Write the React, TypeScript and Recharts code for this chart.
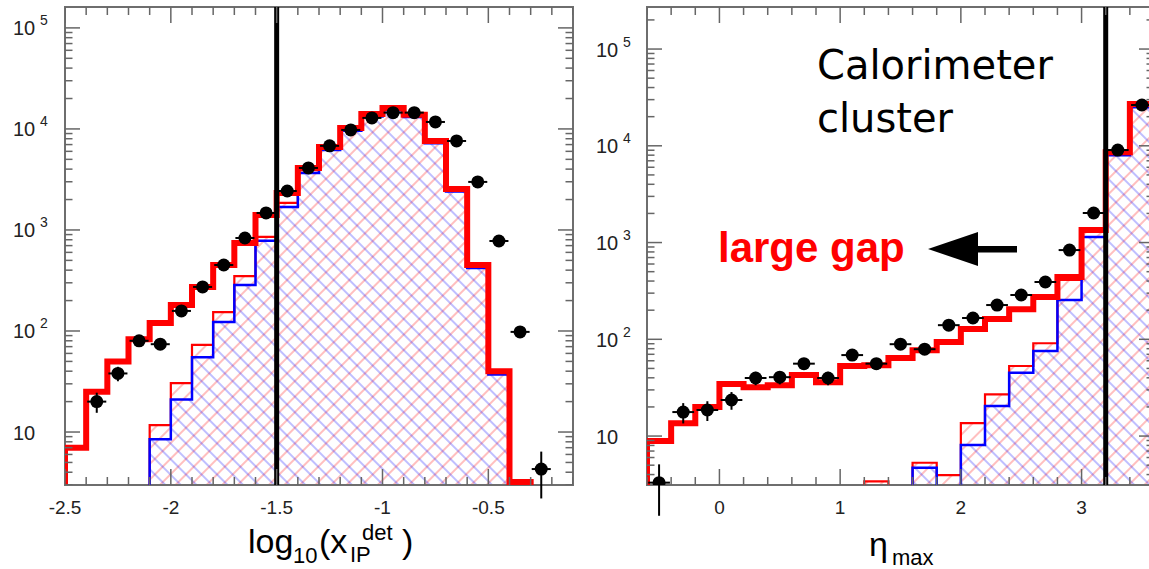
import React from 'react'
import {
  ComposedChart,
  Area,
  Line,
  Scatter,
  ErrorBar,
  XAxis,
  YAxis,
  ReferenceLine,
  ReferenceArea,
} from 'recharts'

const FRAME = '#6e6e6e'
const TICK = '#666666'
const FONT = '"Liberation Sans", Arial, Helvetica, sans-serif'
const HIST_FLOOR = 1 // empty bins are drawn below the visible range

// ---- left panel: log10(x_IP^det), bins of 0.1 ----
const xipEdges = [-2.5, -2.4, -2.3, -2.2, -2.1, -2.0, -1.9, -1.8, -1.7, -1.6, -1.5, -1.4, -1.3, -1.2, -1.1, -1.0, -0.9, -0.8, -0.7, -0.6, -0.5, -0.4, -0.3, -0.2, -0.1]
const xipMajor = [-2.5, -2, -1.5, -1, -0.5]
const xipMajorLabels = ['-2.5', '-2', '-1.5', '-1', '-0.5']
const xipTotal = [7.0, 25, 50, 83, 120, 181, 273, 450, 744, 1410, 2325, 4110, 6640, 10230, 14090, 16140, 13800, 7600, 2550, 450, 40, 3.2, 0, 0]
const xipRedHatch = [0, 0, 0, 0, 11.7, 30.5, 73, 154, 350, 853, 1850, 3900, 6400, 9900, 13700, 15700, 13400, 7400, 2480, 440, 39, 3.1, 0, 0]
const xipBlueHatch = [0, 0, 0, 0, 8.5, 21, 55, 123, 285, 780, 1690, 3660, 6200, 9600, 13300, 15300, 13100, 7200, 2400, 420, 37, 3.0, 0, 0]
const xipDataX = [-2.35, -2.25, -2.15, -2.05, -1.95, -1.85, -1.75, -1.65, -1.55, -1.45, -1.35, -1.25, -1.15, -1.05, -0.95, -0.85, -0.75, -0.65, -0.55, -0.45, -0.35, -0.25]
const xipData = [20, 38, 80, 74, 158, 273, 450, 833, 1473, 2430, 4110, 6800, 9770, 12850, 14500, 14500, 11720, 7600, 2990, 778, 98, 4.3]
const xipDataErr = [4.5, 6.2, 9, 8.6, 12.6, 16.5, 21, 29, 38, 49, 64, 82, 99, 113, 120, 120, 108, 87, 55, 28, 9.9, 2.1]
const xipCut = -1.5

// ---- right panel: eta_max, bins of 0.2 ----
const etaEdges = [-0.6, -0.4, -0.2, 0, 0.2, 0.4, 0.6, 0.8, 1.0, 1.2, 1.4, 1.6, 1.8, 2.0, 2.2, 2.4, 2.6, 2.8, 3.0, 3.2, 3.4, 3.6]
const etaMajor = [0, 1, 2, 3]
const etaMajorLabels = ['0', '1', '2', '3']
const etaTotal = [8.9, 13.6, 20, 34.5, 32, 33.6, 42.7, 36, 53, 54, 64, 77, 94, 128, 162, 205, 273, 440, 1346, 8600, 27000]
const etaRedHatch = [0, 0, 0, 0, 0, 0, 0, 0, 0, 3.4, 0, 5.3, 3.95, 13.6, 27, 53, 91, 410, 1300, 8300, 26000]
const etaBlueHatch = [0, 0, 0, 0, 0, 0, 0, 0, 0, 0, 0, 4.7, 0, 8.1, 20.4, 45, 75.5, 255, 1140, 8000, 25000]
const etaDataX = [-0.5, -0.3, -0.1, 0.1, 0.3, 0.5, 0.7, 0.9, 1.1, 1.3, 1.5, 1.7, 1.9, 2.1, 2.3, 2.5, 2.7, 2.9, 3.1, 3.3, 3.5]
const etaData = [3.3, 17.7, 18.6, 23.6, 39.8, 40.6, 56, 39.8, 68.7, 56, 89, 79, 140, 166, 226, 287, 391, 836, 2020, 9040, 26400]
const etaDataErr = [1.8, 4.2, 4.3, 4.9, 6.3, 6.4, 7.5, 6.3, 8.3, 7.5, 9.4, 8.9, 11.8, 12.9, 15, 17, 19.8, 28.9, 45, 95, 162]
const etaCut = 3.2

// y axis decades
const yMajor = [10, 100, 1000, 10000, 100000]
const yMajorExp = ['', '2', '3', '4', '5']

function logTicks(lo: number, hi: number) {
  const out: number[] = []
  for (let d = 1; d <= 1e5; d *= 10) {
    for (let m = 1; m < 10; m++) {
      const v = m * d
      if (v >= lo && v <= hi) out.push(v)
    }
  }
  return out
}

// histogram -> points for a stepAfter curve (edges drop to the floor)
function steps(edges: number[], vals: number[]) {
  const pts = [{ x: edges[0], y: HIST_FLOOR }]
  vals.forEach((v, i) => pts.push({ x: edges[i], y: v > 0 ? v : HIST_FLOOR }))
  pts.push({ x: edges[edges.length - 1], y: HIST_FLOOR })
  return pts
}

const near = (a: number, b: number) => Math.abs(a - b) < 1e-6
const isDecade = (v: number) => yMajor.some((m) => Math.abs(m - v) < 1e-3)

// inward ROOT-style tick mark drawn from the point (cx, cy)
const tickShape = (dx: number, dy: number) => (s: any) => (
  <line
    x1={s.cx}
    y1={s.cy}
    x2={s.cx + dx}
    y2={s.cy + dy}
    stroke={TICK}
    strokeWidth={1.5}
  />
)

interface PanelProps {
  id: string
  width: number
  marginRight: number
  yAxisWidth: number
  labelDx: number
  edges: number[]
  xDomain: [number, number]
  yDomain: [number, number]
  majors: number[]
  majorLabels: string[]
  total: number[]
  red: number[]
  blue: number[]
  dataX: number[]
  data: number[]
  dataErr: number[]
  halfWidth: number
  cut: number
}

function Panel(p: PanelProps) {
  const yTicks = logTicks(p.yDomain[0], p.yDomain[1])
  const points = p.dataX.map((x, i) => ({ x, y: p.data[i], ex: p.halfWidth, ey: p.dataErr[i] }))

  const xMaj = p.edges.filter((v) => p.majors.some((m) => near(m, v)))
  const xMin = p.edges.filter((v) => !p.majors.some((m) => near(m, v)))
  const yMaj = yTicks.filter(isDecade)
  const yMin = yTicks.filter((v) => !isDecade(v))

  // tick series: [points, dx, dy]
  const tickSets: [{ x: number; y: number }[], number, number][] = [
    [xMaj.map((x) => ({ x, y: p.yDomain[0] })), 0, -16],
    [xMin.map((x) => ({ x, y: p.yDomain[0] })), 0, -8],
    [xMaj.map((x) => ({ x, y: p.yDomain[1] })), 0, 16],
    [xMin.map((x) => ({ x, y: p.yDomain[1] })), 0, 8],
    [yMaj.map((y) => ({ x: p.xDomain[0], y })), 15, 0],
    [yMin.map((y) => ({ x: p.xDomain[0], y })), 7.5, 0],
    [yMaj.map((y) => ({ x: p.xDomain[1], y })), -15, 0],
    [yMin.map((y) => ({ x: p.xDomain[1], y })), -7.5, 0],
  ]

  const bottomLabel = (t: any) => {
    const i = p.majors.findIndex((m) => near(m, t.payload.value))
    if (i < 0) return <g />
    return (
      <text x={t.x} y={t.y + 29} textAnchor="middle" fontFamily={FONT} fontSize={19} fill="#222">
        {p.majorLabels[i]}
      </text>
    )
  }
  const leftLabel = (t: any) => {
    const i = yMajor.findIndex((m) => Math.abs(m - t.payload.value) < 1e-3)
    if (i < 0) return <g />
    return (
      <g>
        <text x={t.x + p.labelDx} y={t.y + 7.5} fontFamily={FONT} fontSize={20} fill="#222">
          10
        </text>
        {yMajorExp[i] && (
          <text x={t.x + p.labelDx + 27} y={t.y - 2.5} fontFamily={FONT} fontSize={14} fill="#222">
            {yMajorExp[i]}
          </text>
        )}
      </g>
    )
  }

  return (
    <ComposedChart
      width={p.width}
      height={569}
      margin={{ top: 7, right: p.marginRight, left: 0, bottom: 83 }}
    >
      <defs>
        <pattern id={`red-${p.id}`} patternUnits="userSpaceOnUse" width={11} height={11} patternTransform="rotate(45)">
          <line x1={5} y1={0} x2={5} y2={11} stroke="#ff0000" strokeOpacity={0.5} strokeWidth={1} />
        </pattern>
        <pattern id={`blue-${p.id}`} patternUnits="userSpaceOnUse" width={11} height={11} patternTransform="rotate(-45)">
          <line x1={5} y1={0} x2={5} y2={11} stroke="#0000ff" strokeOpacity={0.5} strokeWidth={1} />
        </pattern>
      </defs>
      <XAxis
        xAxisId="b"
        type="number"
        dataKey="x"
        domain={p.xDomain}
        allowDataOverflow
        ticks={p.majors}
        interval={0}
        height={1}
        tickSize={0}
        tickMargin={0}
        tickLine={false}
        axisLine={false}
        tick={bottomLabel}
      />
      <YAxis
        yAxisId="l"
        type="number"
        scale="log"
        domain={p.yDomain}
        allowDataOverflow
        ticks={yMajor}
        interval={0}
        width={p.yAxisWidth}
        tickSize={0}
        tickMargin={0}
        tickLine={false}
        axisLine={false}
        tick={leftLabel}
      />
      <Area
        xAxisId="b"
        yAxisId="l"
        data={steps(p.edges, p.red)}
        dataKey="y"
        type="stepAfter"
        baseValue={p.yDomain[0]}
        fill={`url(#red-${p.id})`}
        fillOpacity={1}
        stroke="none"
        isAnimationActive={false}
      />
      <Area
        xAxisId="b"
        yAxisId="l"
        data={steps(p.edges, p.blue)}
        dataKey="y"
        type="stepAfter"
        baseValue={p.yDomain[0]}
        fill={`url(#blue-${p.id})`}
        fillOpacity={1}
        stroke="none"
        isAnimationActive={false}
      />
      <Line
        xAxisId="b"
        yAxisId="l"
        data={steps(p.edges, p.red)}
        dataKey="y"
        type="stepAfter"
        stroke="#ff0000"
        strokeWidth={2.2}
        dot={false}
        isAnimationActive={false}
      />
      <Line
        xAxisId="b"
        yAxisId="l"
        data={steps(p.edges, p.blue)}
        dataKey="y"
        type="stepAfter"
        stroke="#0000ff"
        strokeWidth={2.5}
        dot={false}
        isAnimationActive={false}
      />
      <Line
        xAxisId="b"
        yAxisId="l"
        data={steps(p.edges, p.total)}
        dataKey="y"
        type="stepAfter"
        stroke="#ff0000"
        strokeWidth={6}
        strokeLinejoin="miter"
        dot={false}
        isAnimationActive={false}
      />
      <ReferenceLine xAxisId="b" yAxisId="l" x={p.cut} stroke="#000" strokeWidth={5} />
      <ReferenceArea
        xAxisId="b"
        yAxisId="l"
        x1={p.xDomain[0]}
        x2={p.xDomain[1]}
        y1={p.yDomain[0]}
        y2={p.yDomain[1]}
        fill="none"
        fillOpacity={0}
        stroke={FRAME}
        strokeWidth={2}
        ifOverflow="visible"
      />
      {tickSets.map(([pts, dx, dy], k) => (
        <Scatter
          key={`ticks${k}`}
          xAxisId="b"
          yAxisId="l"
          data={pts}
          dataKey="y"
          isAnimationActive={false}
          shape={tickShape(dx, dy)}
        />
      ))}
      <Scatter
        xAxisId="b"
        yAxisId="l"
        data={points}
        dataKey="y"
        isAnimationActive={false}
        shape={(s: any) => <circle cx={s.cx} cy={s.cy} r={6.5} fill="#000" />}
      >
        <ErrorBar direction="x" dataKey="ex" width={0} stroke="#000" strokeWidth={2} />
        <ErrorBar direction="y" dataKey="ey" width={0} stroke="#000" strokeWidth={2} />
      </Scatter>
    </ComposedChart>
  )
}

export default function App() {
  return (
    <div
      style={{
        position: 'fixed',
        left: 0,
        top: 0,
        width: 1149,
        height: 569,
        overflow: 'hidden',
        background: '#fff',
      }}
    >
      <div style={{ position: 'absolute', left: 0, top: 0 }}>
        <Panel
          id="xip"
          width={600}
          marginRight={27}
          yAxisWidth={65}
          labelDx={-52}
          edges={xipEdges}
          xDomain={[-2.5, -0.1]}
          yDomain={[2.99, 1.61e5]}
          majors={xipMajor}
          majorLabels={xipMajorLabels}
          total={xipTotal}
          red={xipRedHatch}
          blue={xipBlueHatch}
          dataX={xipDataX}
          data={xipData}
          dataErr={xipDataErr}
          halfWidth={0.045}
          cut={xipCut}
        />
      </div>
      <div style={{ position: 'absolute', left: 580, top: 0 }}>
        <Panel
          id="eta"
          width={574}
          marginRight={0}
          yAxisWidth={67}
          labelDx={-51}
          edges={etaEdges}
          xDomain={[-0.6, 3.6]}
          yDomain={[3.12, 2.72e5]}
          majors={etaMajor}
          majorLabels={etaMajorLabels}
          total={etaTotal}
          red={etaRedHatch}
          blue={etaBlueHatch}
          dataX={etaDataX}
          data={etaData}
          dataErr={etaDataErr}
          halfWidth={0.09}
          cut={etaCut}
        />
      </div>
      <svg
        width={1149}
        height={569}
        style={{ position: 'absolute', left: 0, top: 0, pointerEvents: 'none' }}
      >
        <text x={817} y={79} fontFamily='"DejaVu Sans", sans-serif' fontSize={40} fill="#000">
          Calorimeter
        </text>
        <text x={817} y={132} fontFamily='"DejaVu Sans", sans-serif' fontSize={40} fill="#000">
          cluster
        </text>
        <text x={718} y={262} fontFamily={FONT} fontWeight="bold" fontSize={42} fill="#ff0000">
          large gap
        </text>
        <polygon points="928,249 978,232 978,266" fill="#000" />
        <rect x={976} y={246} width={41} height={6.5} fill="#000" />

        <text fontFamily={FONT} fill="#000">
          <tspan x={248} y={553} fontSize={34}>log</tspan>
          <tspan x={293} y={563} fontSize={22}>10</tspan>
          <tspan x={319} y={553} fontSize={34}>(x</tspan>
          <tspan x={350} y={562} fontSize={22}>IP</tspan>
          <tspan x={362} y={540} fontSize={22}>det</tspan>
          <tspan x={402} y={553} fontSize={34}>)</tspan>
        </text>
        <text fontFamily={FONT} fill="#000">
          <tspan x={869} y={556} fontSize={34}>η</tspan>
          <tspan x={892} y={565} fontSize={22}>max</tspan>
        </text>
      </svg>
    </div>
  )
}
